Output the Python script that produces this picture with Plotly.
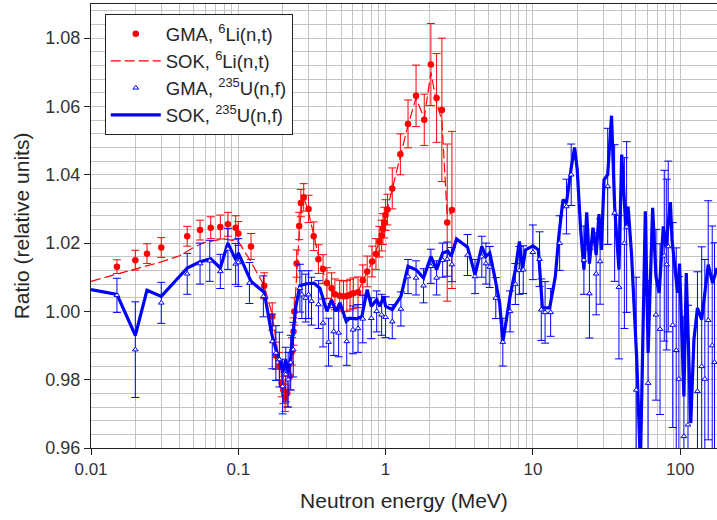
import plotly.graph_objects as go

# ---------------- data ----------------
# GMA 6Li(n,t)
li_gma_e = [0.015, 0.020, 0.024, 0.030, 0.045, 0.055, 0.065, 0.0755, 0.085, 0.096, 0.100, 0.122,
            0.150, 0.170, 0.180, 0.190, 0.197, 0.202, 0.208, 0.215, 0.224, 0.232, 0.237, 0.240,
            0.249, 0.259, 0.266, 0.278, 0.300, 0.325, 0.350, 0.376, 0.400, 0.430, 0.453, 0.488,
            0.518, 0.546, 0.574, 0.604, 0.650, 0.700, 0.750, 0.810, 0.860, 0.906, 0.940, 0.960,
            0.980, 1.000, 1.030, 1.11, 1.26, 1.42, 1.61, 1.83, 2.03, 2.22, 2.41, 2.62, 2.82]
li_gma_v = [1.0131, 1.0150, 1.0169, 1.0187, 1.0220, 1.0238, 1.0245, 1.0247, 1.0255, 1.0245, 1.0228, 1.0190,
            1.0075, 0.9985, 0.9870, 0.9840, 0.9790, 0.9770, 0.9747, 0.9760, 0.9810, 0.9883, 0.9941, 1.0000,
            1.0140, 1.0250, 1.0317, 1.0334, 1.0300, 1.0220, 1.0153, 1.0124, 1.0083, 1.0068, 1.0050, 1.0046,
            1.0044, 1.0045, 1.0049, 1.0053, 1.0056, 1.0091, 1.0117, 1.0146, 1.0168, 1.0204, 1.0222, 1.0241,
            1.0260, 1.0282, 1.0298, 1.0360, 1.0460, 1.0549, 1.0631, 1.0561, 1.0723, 1.0625, 1.0590, 1.0260, 1.0297]
li_gma_err = [0.0020, 0.0029, 0.0029, 0.0029, 0.0029, 0.0029, 0.0032, 0.0035, 0.0035, 0.0035, 0.0035, 0.0038,
              0.0038, 0.0040, 0.0040, 0.0040, 0.0040, 0.0040, 0.0040, 0.0040, 0.0040, 0.0040, 0.0040, 0.0040,
              0.0040, 0.0040, 0.0040, 0.0040, 0.0040, 0.0042, 0.0042, 0.0042, 0.0045, 0.0045, 0.0045, 0.0045,
              0.0045, 0.0045, 0.0045, 0.0045, 0.0045, 0.0045, 0.0045, 0.0045, 0.0045, 0.0045, 0.0045, 0.0045,
              0.0045, 0.0045, 0.0045, 0.0060, 0.0060, 0.0070, 0.0090, 0.0075, 0.0120, 0.0130, 0.0210, 0.0230, 0.0230]

# SOK 6Li(n,t)
li_sok_e = [0.01, 0.02, 0.03, 0.04, 0.05, 0.06, 0.08, 0.10, 0.12, 0.15, 0.17, 0.19, 0.205, 0.215, 0.225,
            0.24, 0.25, 0.26, 0.27, 0.28, 0.30, 0.33, 0.36, 0.40, 0.45, 0.50, 0.55, 0.60, 0.65, 0.70,
            0.80, 0.90, 1.00, 1.11, 1.26, 1.42, 1.61, 1.83, 2.03, 2.22, 2.41, 2.62, 2.82]
li_sok_v = [1.0088, 1.0124, 1.0145, 1.0163, 1.0188, 1.0203, 1.0212, 1.0205, 1.0150, 1.0075, 0.9990, 0.9850,
            0.9770, 0.9750, 0.9800, 0.9990, 1.0120, 1.0240, 1.0310, 1.0330, 1.0290, 1.0210, 1.0140, 1.0085,
            1.0050, 1.0042, 1.0045, 1.0052, 1.0058, 1.0088, 1.0140, 1.0200, 1.0280, 1.0355, 1.0450, 1.0545,
            1.0625, 1.0565, 1.0700, 1.0610, 1.0560, 1.0280, 1.0290]

# GMA 235U(n,f)
u_gma_e = [0.015, 0.020, 0.030, 0.045, 0.055, 0.064, 0.0755, 0.085, 0.096, 0.100, 0.119, 0.148,
           0.170, 0.180, 0.190, 0.200, 0.210, 0.218, 0.227, 0.236, 0.262, 0.270, 0.287, 0.300,
           0.314, 0.350, 0.376, 0.410, 0.445, 0.480, 0.545, 0.600, 0.650, 0.700, 0.800, 0.870,
           0.940, 1.000, 1.11, 1.27, 1.42, 1.61, 1.81, 2.03, 2.22, 2.44, 2.62, 2.82, 3.6, 4.05,
           4.5, 4.8, 5.1, 5.6, 6.25, 7.0, 7.6, 8.1, 8.6, 10.0, 11.1, 11.4, 12.1, 13.2, 15.2,
           16.9, 18.2, 22.2, 24.2, 26.9, 28.6, 32.2, 35.9, 38.4, 41.8, 43.3, 50.3, 60.6, 68.5,
           73.0, 78.0, 81.0, 83.0, 89.0, 94.0, 98.0, 106.0, 113.0, 131.0, 140.0, 147.0, 155.0,
           165.0, 171.0]
u_gma_v = [1.0047, 0.9888, 1.0025, 1.0110, 1.0140, 1.0148, 1.0117, 1.0183, 1.0139, 1.0143, 1.0083, 1.0044,
           0.9912, 0.9878, 0.9859, 0.9780, 0.9815, 0.9800, 0.9850, 0.9888, 1.0068, 1.0049, 1.0039, 1.0049,
           1.0030, 1.0020, 0.9966, 0.9910, 0.9941, 0.9937, 0.9912, 0.9946, 0.9950, 0.9978, 0.9980, 1.0000,
           0.9990, 0.9983, 0.9970, 1.0007, 1.0102, 1.0098, 1.0075, 1.0132, 1.0098, 1.0150, 1.0153, 1.0137,
           1.0165, 1.0102, 1.0160, 1.0140, 1.0130, 1.0039, 0.9910, 1.0000, 1.0080, 1.0120, 1.0122, 1.0173,
           1.0153, 1.0005, 0.9997, 0.9997, 1.0200, 1.0307, 1.0400, 1.0150, 1.0052, 1.0110, 1.0146, 1.0366,
           1.0288, 1.0071, 1.0200, 1.0247, 0.9770, 0.9790, 0.9990, 0.9948, 1.0163, 1.0137, 1.0190, 0.9960,
           0.9886, 0.9802, 0.9634, 0.9668, 0.9766, 0.9839, 0.9802, 0.9974, 0.9900, 0.9851]
u_gma_err = [0.005, 0.014, 0.006, 0.006, 0.006, 0.006, 0.005, 0.006, 0.006, 0.007, 0.006, 0.006,
             0.008, 0.008, 0.008, 0.008, 0.008, 0.008, 0.008, 0.008, 0.007, 0.007, 0.007, 0.007,
             0.007, 0.007, 0.007, 0.007, 0.007, 0.007, 0.007, 0.007, 0.007, 0.007, 0.006, 0.006,
             0.006, 0.006, 0.005, 0.005, 0.005, 0.005, 0.005, 0.005, 0.005, 0.005, 0.005, 0.005,
             0.006, 0.005, 0.006, 0.006, 0.006, 0.006, 0.007, 0.006, 0.006, 0.007, 0.007, 0.008,
             0.008, 0.009, 0.009, 0.007, 0.008, 0.008, 0.009, 0.010, 0.013, 0.012, 0.0125, 0.017,
             0.020, 0.021, 0.025, 0.025, 0.033, 0.030, 0.025, 0.025, 0.025, 0.025, 0.025, 0.030,
             0.030, 0.030, 0.035, 0.035, 0.035, 0.035, 0.035, 0.035, 0.035, 0.035]

# SOK 235U(n,f)
u_sok_e = [0.01, 0.015, 0.02, 0.024, 0.030, 0.045, 0.055, 0.065, 0.0755, 0.085, 0.096, 0.100, 0.122,
           0.150, 0.168, 0.180, 0.194, 0.200, 0.210, 0.218, 0.227, 0.236, 0.246, 0.262, 0.29, 0.326,
           0.358, 0.40, 0.43, 0.46, 0.49, 0.54, 0.57, 0.635, 0.69, 0.75, 0.80, 0.87, 0.915, 0.97,
           1.0, 1.11, 1.27, 1.42, 1.61, 1.81, 2.03, 2.22, 2.44, 2.65, 2.79, 3.03, 3.6, 4.05, 4.5,
           4.8, 5.1, 5.5, 5.95, 6.25, 7.0, 7.6, 8.1, 8.5, 8.9, 10.0, 10.9, 11.6, 13.0, 14.2, 15.0,
           16.0, 16.9, 18.2, 19.2, 20.0, 21.1, 22.2, 23.2, 24.2, 25.6, 26.9, 28.1, 29.2, 30.4,
           32.2, 34.2, 35.9, 38.4, 40.1, 42.7, 44.3, 46.7, 50.7, 53.7, 58.0, 60.6, 65.0, 68.5,
           72.0, 76.8, 80.0, 85.8, 88.0, 96.0, 99.0, 106.0, 110.0, 118.0, 124.0, 131.0, 140.0,
           155.0, 166.0, 178.0]
u_sok_v = [1.0064, 1.0050, 0.9930, 1.0062, 1.0044, 1.0127, 1.0145, 1.0154, 1.0127, 1.0200, 1.0151, 1.0171, 1.0088,
           1.0056, 0.9937, 0.9888, 0.9850, 0.9820, 0.9859, 0.9820, 0.9868, 0.9937, 1.0015, 1.0075, 1.0081, 1.0083,
           1.0068, 1.0000, 1.0034, 1.0000, 1.0025, 0.9971, 0.9980, 0.9978, 0.9985, 1.0064, 1.0015, 1.0034, 1.0015, 1.0044,
           1.0015, 1.0005, 1.0044, 1.0132, 1.0122, 1.0098, 1.0161, 1.0122, 1.0171, 1.0176, 1.0161, 1.0212, 1.0188, 1.0107, 1.0190,
           1.0161, 1.0171, 1.0102, 1.0025, 0.9910, 1.0044, 1.0122, 1.0205, 1.0122, 1.0180, 1.0192, 1.0180, 1.0010, 1.0010, 1.0102, 1.0220,
           1.0327, 1.0317, 1.0420, 1.0480, 1.0415, 1.0240, 1.0122, 1.0290, 1.0140, 1.0245, 1.0165, 1.0285, 1.0180, 1.0385,
           1.0400, 1.0573, 1.0307, 1.0122, 1.0459, 1.0250, 1.0307, 1.0171, 0.9860, 0.9550, 1.0293, 0.9878, 1.0303, 1.0102,
           1.0054, 1.0249, 1.0190, 1.0320, 1.0210, 1.0054, 1.0140, 0.9751, 1.0112, 0.9673, 0.9917, 1.0010, 0.9976,
           1.0137, 1.0083, 1.0127]

RED = "#FF0000"
BLUE = "#0000FF"

fig = go.Figure()

fig.add_trace(go.Scatter(
    x=li_gma_e, y=li_gma_v, mode="markers", name="GMA, <sup>6</sup>Li(n,t)",
    marker=dict(symbol="circle", size=6.5, color=RED),
    error_y=dict(type="data", array=li_gma_err, color=RED, thickness=1, width=4),
    legendrank=1,
))
fig.add_trace(go.Scatter(
    x=li_sok_e, y=li_sok_v, mode="lines", name="SOK, <sup>6</sup>Li(n,t)",
    line=dict(color=RED, width=1.2, dash="10px,4px"),
    legendrank=2,
))
fig.add_trace(go.Scatter(
    x=u_sok_e, y=u_sok_v, mode="lines", name="SOK, <sup>235</sup>U(n,f)",
    line=dict(color=BLUE, width=3.2),
    legendrank=4,
))
fig.add_trace(go.Scatter(
    x=u_gma_e, y=u_gma_v, mode="markers", name="GMA, <sup>235</sup>U(n,f)",
    marker=dict(symbol="triangle-up", size=5, color="white", line=dict(color=BLUE, width=1)),
    error_y=dict(type="data", array=u_gma_err, color=BLUE, thickness=1, width=4),
    legendrank=3,
))

FONT = "Liberation Sans, Arial, sans-serif"
GRID = "#C4C4C4"

fig.update_layout(
    width=717, height=520,
    margin=dict(l=91, r=0, t=4, b=72),
    paper_bgcolor="white", plot_bgcolor="white",
    font=dict(family=FONT, size=17, color="#262626"),
    showlegend=True,
    legend=dict(
        x=0.022, y=0.977, xanchor="left", yanchor="top",
        bgcolor="white", bordercolor="#222", borderwidth=1,
        font=dict(family=FONT, size=18.5, color="#262626"),
        itemwidth=50, tracegroupgap=0,
    ),
    xaxis=dict(
        type="log", range=[-2, 2.25],
        tickvals=[0.01, 0.1, 1, 10, 100], ticktext=["0.01", "0.1", "1", "10", "100"],
        ticks="outside", ticklen=6, tickcolor="#222", tickwidth=1,
        showline=True, linecolor="#222", linewidth=1, mirror=True,
        showgrid=True, gridcolor=GRID, gridwidth=1,
        minor=dict(dtick="D1", showgrid=True, gridcolor=GRID, gridwidth=1, ticks=""),
        zeroline=False,
        tickfont=dict(size=17, color="#333"),
        title=dict(text="Neutron energy (MeV)", font=dict(size=21, color="#262626"), standoff=14),
    ),
    yaxis=dict(
        range=[0.96, 1.09], dtick=0.02, tick0=0.96, tickformat=".2f",
        ticks="outside", ticklen=6, tickcolor="#222", tickwidth=1,
        showline=True, linecolor="#222", linewidth=1, mirror=False,
        showgrid=True, gridcolor=GRID, gridwidth=1,
        minor=dict(dtick=0.004, tick0=0.96, showgrid=True, gridcolor=GRID, gridwidth=1, ticks=""),
        zeroline=False,
        tickfont=dict(size=18, color="#333"),
        title=dict(text="Ratio (relative units)", font=dict(size=21, color="#262626"), standoff=10),
    ),
)

fig.write_html("out.html")
